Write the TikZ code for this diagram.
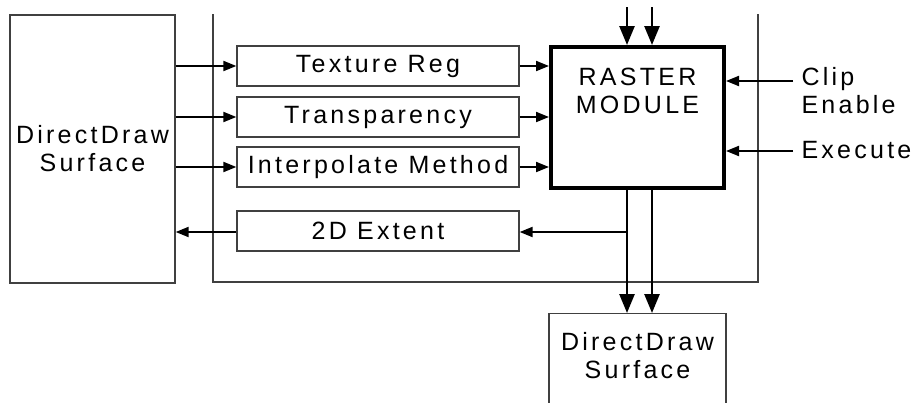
\documentclass[tikz,border=0pt]{standalone}
\usepackage{fontspec}
\setsansfont{Liberation Sans}[LetterSpace=13]
\usetikzlibrary{arrows.meta}

\begin{document}
\begin{tikzpicture}[x=1pt,y=-1pt,
    font=\sffamily\fontsize{25}{28}\selectfont,
    thinbox/.style={draw=black!75,line width=1.3pt,inner sep=0pt,align=center},
    regbox/.style={thinbox,minimum width=282pt,minimum height=40pt},
    smallarrow/.style={line width=2pt,-{Triangle[length=13pt,width=10pt]}},
    bigarrow/.style={line width=2.6pt,-{Triangle[length=19pt,width=15pt]}}]

  \clip (0,0) rectangle (913,402);

  \node[thinbox,minimum width=165pt,minimum height=268pt] (left surface) at (92.5,149) {DirectDraw\\Surface};
  \draw[black!75,line width=1.3pt] (213,14) -- (213,282) -- (758,282) -- (758,14);

  \node[regbox] (texture) at (378,66) {Texture Reg};
  \node[regbox] (transparency) at (378,117) {Transparency};
  \node[regbox] (interpolate) at (378,167) {Interpolate Method};
  \node[regbox] (extent) at (378,231) {2D Extent};

  \node[draw,line width=4pt,minimum width=173pt,minimum height=141pt,inner sep=0pt] (raster) at (637.5,117.5) {};
  \node[align=center] (raster label) at (637.5,91) {RASTER\\MODULE};

  \node[thinbox,minimum width=177pt,minimum height=114pt,anchor=north] (bottom surface) at (637.5,313) {};
  \node[align=center] (bottom label) at (637.5,356) {DirectDraw\\Surface};

  \node[anchor=west,align=left] (clip) at (798,91) {Clip\\Enable};
  \node[anchor=west] (execute) at (798,150) {Execute};

  \coordinate (top a) at (627,7);
  \coordinate (top b) at (652,7);
  \coordinate (clip in) at (793,81);
  \coordinate (execute in) at (793,151);
  \coordinate (branch) at (627,232);

  \foreach \n in {texture,transparency,interpolate} {
    \draw[smallarrow] (left surface.east |- \n.west) -- (\n.west);
    \draw[smallarrow] (\n.east) -- (raster.west |- \n.east);
  }
  \draw[smallarrow] (clip in) -- (raster.east |- clip in);
  \draw[smallarrow] (execute in) -- (raster.east |- execute in);
  \draw[smallarrow] (branch) -- (extent.east |- branch);
  \draw[smallarrow] (extent.west |- branch) -- (left surface.east |- branch);

  \draw[bigarrow] (top a) -- (top a |- raster.north);
  \draw[bigarrow] (top b) -- (top b |- raster.north);
  \draw[bigarrow] (top a |- raster.south) -- (top a |- bottom surface.north);
  \draw[bigarrow] (top b |- raster.south) -- (top b |- bottom surface.north);

\end{tikzpicture}
\end{document}
